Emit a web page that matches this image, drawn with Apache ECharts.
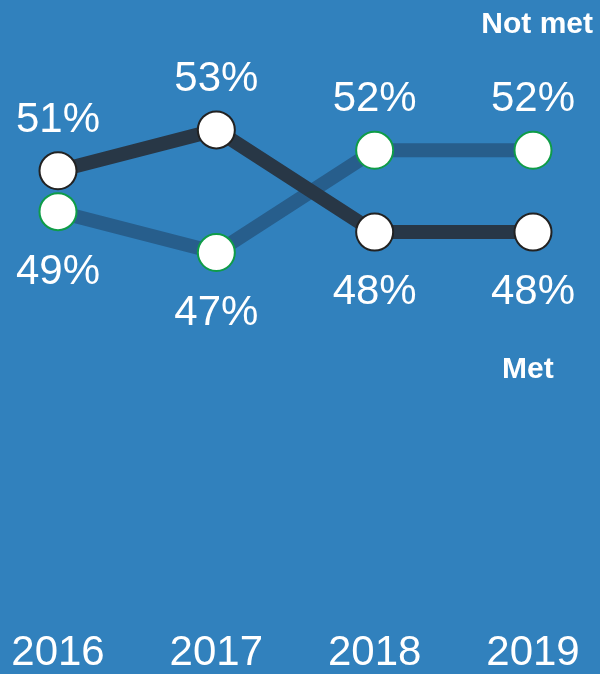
<!DOCTYPE html>
<html>
<head>
<meta charset="utf-8">
<script src="https://cdn.jsdelivr.net/npm/echarts@6/dist/echarts.min.js"></script>
<style>
    html, body { margin: 0; padding: 0; background: #3181bd; }
    #chart { width: 600px; height: 674px; }
</style>
</head>
<body>
<div id="chart"></div>
<script>
    // data
    var years = ['2016', '2017', '2018', '2019'];
    var notMet = [51, 53, 48, 48];
    var met = [49, 47, 52, 52];
    var notMetLabelPos = ['top', 'top', 'bottom', 'bottom'];
    var metLabelPos = ['bottom', 'bottom', 'top', 'top'];

    function toItems(values, positions) {
        return values.map(function (v, i) {
            return { value: v, label: { position: positions[i], distance: positions[i] === 'top' ? 10 : 20 } };
        });
    }

    var myChart = echarts.init(document.getElementById('chart'));
    myChart.setOption({
        backgroundColor: '#3181bd',
        animation: false,
        grid: {
            left: 58,
            right: 67,
            top: 27.7,
            bottom: 67.7
        },
        xAxis: {
            type: 'category',
            data: years,
            boundaryGap: false,
            axisLine: { show: false },
            axisTick: { show: false },
            axisLabel: {
                color: '#fff',
                fontSize: 42,
                fontFamily: 'Liberation Sans',
                margin: 32
            }
        },
        yAxis: {
            type: 'value',
            min: 30,
            max: 58,
            show: false
        },
        graphic: [
            {
                type: 'text',
                right: 7,
                top: 10,
                style: { text: 'Not met', fill: '#fff', font: 'bold 30px "Liberation Sans"' }
            },
            {
                type: 'text',
                left: 502,
                top: 355,
                style: { text: 'Met', fill: '#fff', font: 'bold 30px "Liberation Sans"' }
            }
        ],
        series: [
            {
                name: 'Met',
                type: 'line',
                data: toItems(met, metLabelPos),
                symbol: 'circle',
                symbolSize: 37,
                lineStyle: { color: '#275e8c', width: 14 },
                itemStyle: { color: '#fff', borderColor: '#0f9c48', borderWidth: 2 },
                label: {
                    show: true,
                    color: '#fff',
                    fontSize: 42,
                    fontFamily: 'Liberation Sans',
                    formatter: '{c}%'
                },
                z: 2
            },
            {
                name: 'Not met',
                type: 'line',
                data: toItems(notMet, notMetLabelPos),
                symbol: 'circle',
                symbolSize: 37,
                lineStyle: { color: '#283746', width: 14 },
                itemStyle: { color: '#fff', borderColor: '#222', borderWidth: 2 },
                label: {
                    show: true,
                    color: '#fff',
                    fontSize: 42,
                    fontFamily: 'Liberation Sans',
                    formatter: '{c}%'
                },
                z: 3
            }
        ]
    });
</script>
</body>
</html>
